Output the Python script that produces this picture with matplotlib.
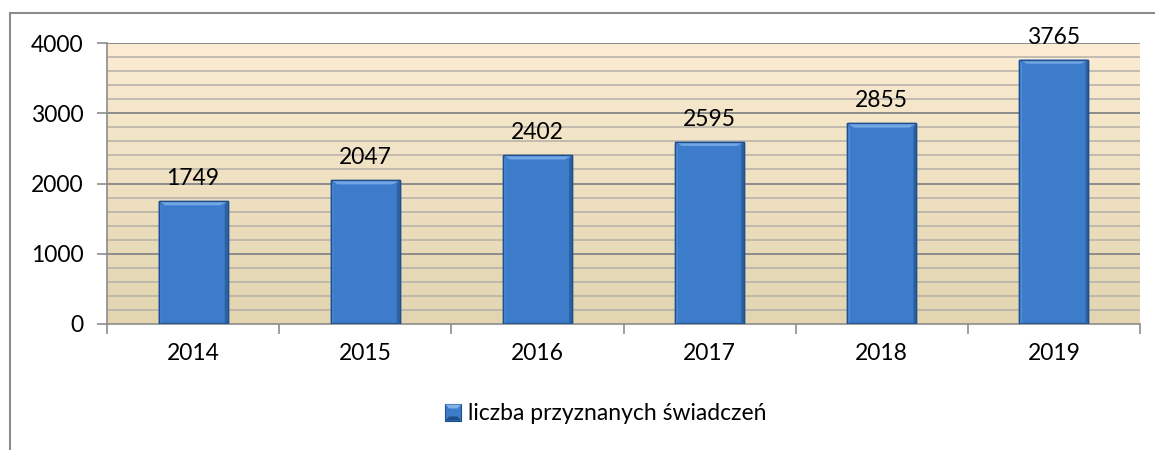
import numpy as np
import matplotlib
matplotlib.use("Agg")
import matplotlib.pyplot as plt
from matplotlib.patches import Rectangle, Polygon
from matplotlib.lines import Line2D
from matplotlib.legend_handler import HandlerPatch

years = ["2014", "2015", "2016", "2017", "2018", "2019"]
values = [1749, 2047, 2402, 2595, 2855, 3765]
series_name = "liczba przyznanych świadczeń"
yticks = [0, 1000, 2000, 3000, 4000]

plt.rcParams['font.family'] = ['Lato', 'DejaVu Sans']
FS = 16.5

W, H = 1155, 450
fig = plt.figure(figsize=(W / 100, H / 100), dpi=100)
ax = fig.add_axes([107 / W, 1 - 324 / H, (1140 - 107) / W, (324 - 43) / H])

n = len(years)
ax.set_xlim(-0.5, n - 0.5)

# background gradient (light at top, tan at bottom)
grad = np.linspace(0, 1, 256).reshape(-1, 1)
top_c = np.array([0xFB, 0xEC, 0xD3]) / 255
bot_c = np.array([0xE2, 0xD5, 0xB0]) / 255
img = top_c[None, None, :] * (1 - grad[:, :, None]) + bot_c[None, None, :] * grad[:, :, None]
ax.imshow(img, extent=[-0.5, n - 0.5, 0, 4000], aspect='auto', zorder=0, origin='upper')
ax.set_xlim(-0.5, n - 0.5)
ax.set_ylim(0, 4000)

# gridlines
for yv in np.arange(200, 4001, 200):
    major = yv % 1000 == 0
    ax.axhline(yv, color='#8C8C8C' if major else '#B4B0A8', lw=1.4 if major else 1.1, zorder=1)

bw = 0.4
for i, v in enumerate(values):
    x0, x1 = i - bw / 2, i + bw / 2
    ax.add_patch(Rectangle((x0, 0), bw, v, facecolor='#3D7BCB', edgecolor='#1F4E8C', lw=1.0, zorder=3))
    b = 0.04
    by = 60
    ax.add_patch(Polygon([(x0, v), (x1, v), (x1 - b, v - by), (x0 + b, v - by)],
                         closed=True, facecolor='#72A6E5', edgecolor='none', zorder=4))
    ax.add_patch(Polygon([(x0, v), (x0 + b * 0.4, v - by), (x0 + b * 0.4, by * 0.3), (x0, 0)],
                         closed=True, facecolor='#4C8AD8', edgecolor='none', zorder=4))
    ax.add_patch(Polygon([(x1, v), (x1 - b * 0.4, v - by), (x1 - b * 0.4, by * 0.3), (x1, 0)],
                         closed=True, facecolor='#2C609F', edgecolor='none', zorder=4))
    ax.add_patch(Polygon([(x0, 0), (x1, 0), (x1 - b * 0.4, by * 0.3), (x0 + b * 0.4, by * 0.3)],
                         closed=True, facecolor='#2A5C9A', edgecolor='none', zorder=4))
    ax.add_patch(Rectangle((x0, 0), bw, v, facecolor='none', edgecolor='#1F4E8C', lw=1.0, zorder=5))
    ax.text(i, v + 170, str(v), ha='center', va='bottom', fontsize=FS, color='#000000', zorder=6)

for s in ['top', 'right']:
    ax.spines[s].set_visible(False)
ax.spines['left'].set_color('#8C8C8C')
ax.spines['bottom'].set_color('#8C8C8C')
ax.spines['left'].set_linewidth(1.2)
ax.spines['bottom'].set_linewidth(1.2)
ax.set_yticks(yticks)
ax.set_yticklabels([str(t) for t in yticks])
ax.set_xticks(range(n))
ax.set_xticklabels(years)
ax.set_xticks(np.arange(-0.5, n, 1), minor=True)
ax.tick_params(axis='x', which='major', length=0, pad=14, labelsize=FS)
ax.tick_params(axis='x', which='minor', length=7, color='#8C8C8C', width=1.2)
ax.tick_params(axis='y', length=7, color='#8C8C8C', width=1.2, pad=10, labelsize=FS)

class HandlerBevel(HandlerPatch):
    def create_artists(self, legend, orig_handle, xdescent, ydescent, width, height, fontsize, trans):
        s = min(width, height)
        x = xdescent + width - s
        y = -ydescent
        arts = [Rectangle((x, y), s, s, facecolor='#3D7BCB', edgecolor='#1F4E8C', lw=0.8, transform=trans)]
        m = s * 0.25
        arts.append(Polygon([(x, y + s), (x + s, y + s), (x + s - m, y + s - m), (x + m, y + s - m)],
                            facecolor='#7FB0EA', edgecolor='none', transform=trans))
        arts.append(Polygon([(x, y), (x + s, y), (x + s - m, y + m), (x + m, y + m)],
                            facecolor='#1F4E8C', edgecolor='none', transform=trans))
        return arts

proxy = Rectangle((0, 0), 1, 1)
fig.legend([proxy], [series_name], handler_map={Rectangle: HandlerBevel()},
           loc='center', bbox_to_anchor=(606 / W, 1 - 414 / H), frameon=False,
           fontsize=FS, handlelength=0.7, handleheight=0.7, handletextpad=0.3)

fig.add_artist(Line2D([10 / W, 10 / W], [0, 1 - 13 / H], color='#8C8C8C', lw=1.5, transform=fig.transFigure))
fig.add_artist(Line2D([10 / W, 1], [1 - 13 / H, 1 - 13 / H], color='#8C8C8C', lw=1.5, transform=fig.transFigure))

fig.savefig("out.png", dpi=100)
